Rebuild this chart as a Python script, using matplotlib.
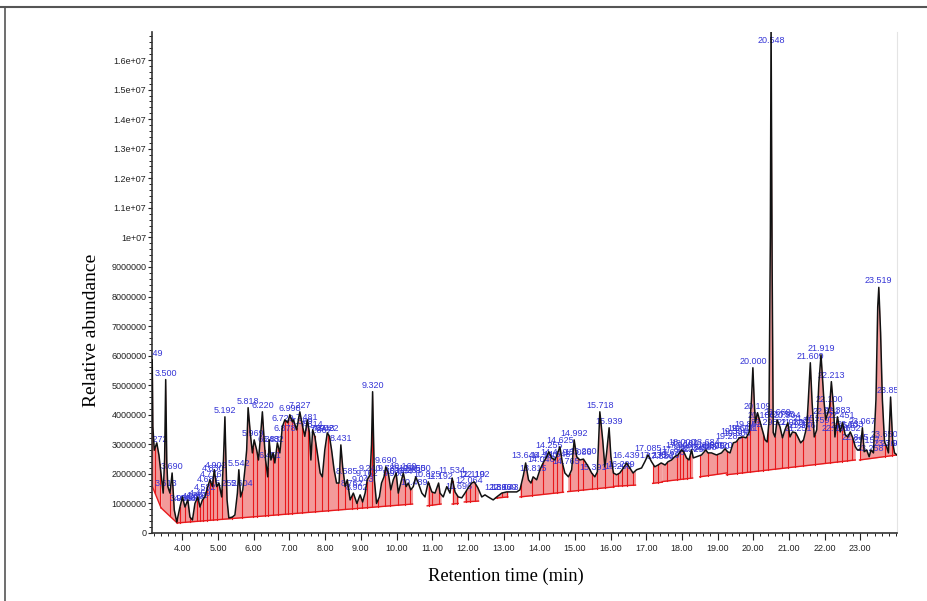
import matplotlib
matplotlib.use("Agg")
import matplotlib.pyplot as plt
import numpy as np
from matplotlib import font_manager
from matplotlib.ticker import MultipleLocator, FuncFormatter
from matplotlib.lines import Line2D

# chromatogram trace: retention time (min), abundance (millions)
trace = [
    (3.146, 4.0), (3.152, 5.86), (3.17, 3.6), (3.21, 2.8), (3.28, 3.05), (3.34, 2.64),
    (3.42, 1.8), (3.46, 1.35), (3.50, 2.5), (3.53, 5.19), (3.56, 2.4), (3.59, 1.57),
    (3.65, 1.35), (3.71, 2.03), (3.77, 0.78), (3.84, 0.37), (3.93, 0.88), (4.00, 1.22),
    (4.07, 0.88), (4.15, 1.12), (4.21, 0.54), (4.28, 0.44), (4.35, 1.0), (4.43, 1.22),
    (4.49, 0.88), (4.56, 1.12), (4.63, 1.22), (4.71, 1.57), (4.77, 1.8), (4.84, 1.57),
    (4.89, 2.14), (4.96, 1.57), (5.02, 1.69), (5.10, 1.22), (5.15, 2.5), (5.19, 3.93),
    (5.22, 2.4), (5.25, 1.12), (5.30, 0.51), (5.40, 0.54), (5.47, 0.61), (5.54, 1.35),
    (5.58, 2.14), (5.63, 1.22), (5.69, 1.46), (5.75, 2.14), (5.80, 2.81), (5.84, 4.24),
    (5.91, 3.27), (5.96, 2.71), (6.01, 3.15), (6.08, 2.81), (6.13, 2.47), (6.18, 3.15),
    (6.24, 4.1), (6.29, 3.15), (6.33, 2.47), (6.39, 1.9), (6.43, 3.15), (6.48, 2.47),
    (6.54, 2.71), (6.59, 2.37), (6.66, 3.05), (6.73, 2.71), (6.80, 3.59), (6.87, 3.83),
    (6.95, 3.73), (7.01, 4.0), (7.08, 3.76), (7.11, 3.83), (7.20, 3.49), (7.29, 4.1),
    (7.37, 3.59), (7.43, 3.27), (7.50, 3.83), (7.56, 3.39), (7.60, 2.47), (7.65, 3.49),
    (7.71, 3.27), (7.78, 2.71), (7.86, 2.03), (7.92, 1.9), (7.99, 2.81), (8.06, 3.39),
    (8.12, 3.27), (8.18, 2.81), (8.25, 2.14), (8.32, 1.69), (8.39, 1.69), (8.44, 2.98),
    (8.49, 2.24), (8.56, 1.57), (8.62, 1.8), (8.70, 1.12), (8.79, 1.35), (8.89, 1.0),
    (8.98, 1.29), (9.05, 1.05), (9.12, 1.35), (9.18, 1.8), (9.26, 1.97), (9.30, 3.0),
    (9.33, 4.78), (9.36, 3.0), (9.38, 1.8), (9.44, 1.0), (9.52, 1.22), (9.58, 1.69),
    (9.65, 1.9), (9.70, 2.24), (9.77, 2.03), (9.84, 1.46), (9.91, 1.8), (9.99, 2.03),
    (10.05, 1.35), (10.12, 1.69), (10.19, 2.03), (10.27, 1.57), (10.33, 1.69), (10.40, 1.46),
    (10.47, 1.57), (10.54, 1.9), (10.61, 1.69), (10.71, 1.35), (10.80, 1.22), (10.89, 1.73),
    (10.99, 1.39), (11.08, 1.35), (11.18, 1.69), (11.22, 1.35), (11.31, 1.22), (11.41, 1.57),
    (11.50, 1.35), (11.56, 1.86), (11.64, 1.39), (11.73, 1.22), (11.83, 1.19), (11.92, 1.35),
    (12.01, 1.53), (12.11, 1.69), (12.18, 1.73), (12.28, 1.53), (12.39, 1.22), (12.48, 1.29),
    (12.57, 1.22), (12.71, 1.12), (12.81, 1.22), (12.95, 1.35), (13.09, 1.39), (13.23, 1.39),
    (13.37, 1.39), (13.46, 1.46), (13.56, 1.97), (13.62, 2.37), (13.70, 1.8), (13.77, 1.69),
    (13.83, 1.9), (13.93, 1.8), (14.02, 2.14), (14.11, 2.37), (14.21, 2.58), (14.27, 2.75),
    (14.35, 2.54), (14.44, 2.47), (14.50, 2.64), (14.58, 2.92), (14.65, 2.37), (14.72, 2.03),
    (14.82, 1.9), (14.91, 2.14), (14.98, 3.15), (15.05, 2.58), (15.14, 2.47), (15.24, 2.50),
    (15.38, 2.24), (15.47, 2.03), (15.56, 1.9), (15.63, 2.07), (15.70, 4.1), (15.78, 3.15),
    (15.84, 2.24), (15.89, 2.71), (15.96, 3.56), (16.01, 2.58), (16.08, 2.03), (16.17, 1.97),
    (16.26, 2.03), (16.36, 2.2), (16.45, 2.37), (16.54, 2.2), (16.63, 2.03), (16.73, 2.14),
    (16.87, 2.2), (16.96, 2.41), (17.05, 2.64), (17.15, 2.41), (17.24, 2.24), (17.33, 2.3),
    (17.42, 2.37), (17.53, 2.3), (17.61, 2.41), (17.71, 2.47), (17.80, 2.58), (17.89, 2.64),
    (17.99, 2.81), (18.05, 2.75), (18.13, 2.54), (18.20, 2.47), (18.27, 2.81), (18.32, 2.54),
    (18.41, 2.58), (18.55, 2.64), (18.67, 2.81), (18.73, 2.71), (18.83, 2.71), (18.97, 2.64),
    (19.11, 2.71), (19.21, 2.85), (19.28, 2.75), (19.35, 2.71), (19.44, 3.05), (19.52, 3.08),
    (19.61, 3.22), (19.71, 3.25), (19.80, 3.22), (19.89, 3.42), (19.95, 4.5), (19.99, 5.59),
    (20.03, 4.4), (20.06, 3.73), (20.12, 4.07), (20.20, 3.73), (20.27, 3.42), (20.33, 3.15),
    (20.39, 3.08), (20.44, 3.73), (20.48, 10.0), (20.50, 17.3), (20.53, 9.0), (20.56, 3.4),
    (20.61, 3.25), (20.67, 3.83), (20.75, 3.59), (20.82, 3.22), (20.89, 3.49), (20.97, 3.73),
    (21.03, 3.25), (21.10, 3.42), (21.19, 3.39), (21.25, 3.25), (21.33, 3.05), (21.41, 3.15),
    (21.50, 3.59), (21.54, 4.41), (21.60, 5.76), (21.65, 4.41), (21.71, 3.25), (21.78, 3.49),
    (21.84, 5.08), (21.90, 6.03), (21.98, 4.51), (22.03, 3.83), (22.09, 4.07), (22.14, 4.27),
    (22.19, 5.12), (22.25, 4.27), (22.29, 3.25), (22.36, 3.93), (22.44, 3.42), (22.50, 3.73),
    (22.58, 3.32), (22.65, 3.25), (22.72, 3.42), (22.79, 3.22), (22.86, 2.92), (22.92, 2.81),
    (23.00, 2.81), (23.06, 3.56), (23.11, 2.75), (23.18, 2.81), (23.25, 2.58), (23.30, 2.81),
    (23.37, 2.71), (23.44, 4.51), (23.49, 7.66), (23.52, 8.31), (23.57, 6.78), (23.62, 4.51),
    (23.68, 3.08), (23.74, 2.92), (23.79, 2.71), (23.85, 4.6), (23.91, 3.05), (23.96, 2.71),
    (24.03, 2.64),
]

# integration baselines: t start, abundance start, t end, abundance end (millions)
baselines = [
    (3.146, 1.60, 3.40, 0.85), (3.40, 0.85, 3.85, 0.34), (3.85, 0.34, 10.45, 0.98),
    (10.86, 0.92, 11.25, 0.98), (11.56, 0.98, 11.73, 1.00), (11.90, 1.05, 12.30, 1.08),
    (12.78, 1.18, 13.12, 1.22), (13.46, 1.22, 14.68, 1.38), (14.80, 1.40, 16.10, 1.56),
    (16.10, 1.58, 16.70, 1.62), (17.18, 1.68, 17.45, 1.72), (17.45, 1.74, 18.30, 1.86),
    (18.50, 1.90, 19.25, 2.03), (19.25, 1.97, 22.86, 2.47), (22.98, 2.47, 24.03, 2.64),
]

# peak start/end drop lines (min)
drop_times = [
    3.15, 3.23, 3.37, 3.65, 3.85, 3.93, 4.07, 4.21, 4.41, 4.49, 4.58, 4.69, 4.77, 4.86,
    4.97, 5.11, 5.39, 5.67, 5.98, 6.09, 6.31, 6.40, 6.54, 6.68, 6.87, 6.96, 7.07,
    7.21, 7.35, 7.52, 7.71, 7.91, 8.08, 8.36, 8.56, 8.75, 8.89, 9.03, 9.17, 9.31, 9.48,
    9.68, 9.82, 10.04, 10.24, 10.38, 10.90, 11.00, 11.20, 11.58, 11.70, 11.95, 12.06,
    12.20, 12.82, 12.96, 13.10, 13.50, 13.80, 14.11, 14.39, 14.50, 14.64, 14.86, 15.09,
    15.23, 15.48, 15.62, 15.84, 16.07, 16.21, 16.32, 16.46, 16.63, 17.20, 17.33, 17.58,
    17.87, 17.95, 18.03, 18.14, 18.23, 18.51, 18.73, 18.99, 19.27, 19.54, 19.68, 19.82,
    19.91, 20.14, 20.28, 20.42, 20.61, 20.81, 20.98, 21.17, 21.40, 21.73, 22.02, 22.16,
    22.35, 22.49, 22.63, 22.77, 23.00, 23.70, 23.90,
]

# peak labels: text, time, peak height (millions)
peak_labels = [
    ("3.149", 3.15, 5.86), ("3.272", 3.28, 2.95), ("3.500", 3.53, 5.19), ("3.613", 3.55, 1.45),
    ("3.690", 3.71, 2.03), ("3.966", 3.95, 0.95), ("4.064", 4.07, 0.95), ("4.180", 4.20, 0.95),
    ("4.289", 4.30, 1.0), ("4.352", 4.40, 1.05), ("4.459", 4.50, 1.1), ("4.582", 4.62, 1.3),
    ("4.687", 4.72, 1.6), ("4.776", 4.80, 1.75), ("4.830", 4.86, 1.95), ("4.902", 4.95, 2.05),
    ("5.192", 5.19, 3.93), ("5.252", 5.22, 1.45), ("5.604", 5.66, 1.45), ("5.542", 5.58, 2.14),
    ("5.818", 5.84, 4.24), ("5.969", 5.98, 3.15), ("6.220", 6.24, 4.1), ("6.383", 6.42, 2.95),
    ("6.482", 6.52, 2.95), ("6.451", 6.45, 2.4), ("6.729", 6.80, 3.65), ("6.878", 6.88, 3.3),
    ("6.998", 7.01, 4.0), ("7.227", 7.29, 4.1), ("7.369", 7.36, 3.55), ("7.481", 7.48, 3.7),
    ("7.614", 7.62, 3.45), ("7.707", 7.70, 3.3), ("7.867", 7.88, 3.25), ("7.943", 7.96, 3.3),
    ("8.022", 8.08, 3.3), ("8.431", 8.44, 2.98), ("8.585", 8.60, 1.85), ("8.762", 8.75, 1.45),
    ("8.902", 8.90, 1.30), ("9.043", 9.05, 1.6), ("9.162", 9.17, 1.8), ("9.240", 9.26, 1.95),
    ("9.320", 9.33, 4.78), ("9.690", 9.70, 2.24), ("9.785", 9.80, 1.95), ("9.903", 9.92, 1.8),
    ("10.044", 10.06, 1.85), ("10.169", 10.19, 2.03), ("10.281", 10.32, 1.9), ("10.450", 10.45, 1.95),
    ("10.650", 10.58, 1.95), ("10.489", 10.50, 1.5), ("10.825", 10.85, 1.75), ("11.192", 11.20, 1.7),
    ("11.534", 11.56, 1.9), ("11.696", 11.75, 1.35), ("12.064", 12.05, 1.55), ("12.110", 12.10, 1.75),
    ("12.192", 12.22, 1.75), ("12.860", 12.85, 1.3), ("12.969", 12.98, 1.3), ("13.043", 13.05, 1.3),
    ("13.646", 13.62, 2.4), ("13.815", 13.82, 1.95), ("14.046", 14.05, 2.25), ("14.130", 14.15, 2.4),
    ("14.255", 14.27, 2.75), ("14.419", 14.42, 2.5), ("14.548", 14.50, 2.45), ("14.625", 14.58, 2.92),
    ("14.765", 14.75, 2.2), ("14.992", 14.98, 3.15), ("15.086", 15.10, 2.5), ("15.200", 15.22, 2.55),
    ("15.391", 15.50, 2.0), ("15.718", 15.70, 4.1), ("15.939", 15.96, 3.56), ("16.200", 16.20, 2.03),
    ("16.299", 16.30, 2.1), ("16.439", 16.45, 2.4), ("17.085", 17.05, 2.64), ("17.235", 17.20, 2.4),
    ("17.386", 17.40, 2.35), ("17.520", 17.55, 2.4), ("17.676", 17.70, 2.5), ("17.812", 17.82, 2.6),
    ("17.908", 17.92, 2.75), ("18.000", 18.00, 2.85), ("18.104", 18.10, 2.8), ("18.225", 18.22, 2.6),
    ("18.345", 18.35, 2.65), ("18.588", 18.58, 2.68), ("18.684", 18.68, 2.85), ("18.820", 18.82, 2.75),
    ("18.950", 18.95, 2.7), ("19.020", 19.05, 2.75), ("19.283", 19.32, 3.05), ("19.394", 19.45, 3.2),
    ("19.504", 19.55, 3.15), ("19.616", 19.65, 3.3), ("19.731", 19.75, 3.3), ("19.852", 19.85, 3.45),
    ("20.000", 19.99, 5.59), ("20.109", 20.12, 4.07), ("20.186", 20.22, 3.75), ("20.298", 20.30, 3.5),
    ("20.548", 20.50, 16.45), ("20.669", 20.67, 3.85), ("20.755", 20.78, 3.8), ("20.904", 20.95, 3.75),
    ("21.030", 21.05, 3.5), ("21.120", 21.15, 3.5), ("21.251", 21.25, 3.3), ("21.346", 21.38, 3.4),
    ("21.451", 21.50, 3.65), ("21.609", 21.60, 5.76), ("21.919", 21.90, 6.03), ("21.759", 21.76, 3.6),
    ("22.031", 22.05, 3.9), ("22.100", 22.12, 4.3), ("22.213", 22.19, 5.12), ("22.383", 22.36, 3.93),
    ("22.300", 22.30, 3.3), ("22.451", 22.47, 3.75), ("22.560", 22.55, 3.4), ("22.652", 22.65, 3.3),
    ("22.733", 22.73, 3.45), ("22.845", 22.85, 3.0), ("23.067", 23.06, 3.56), ("23.157", 23.18, 2.9),
    ("23.258", 23.27, 2.65), ("23.519", 23.52, 8.31), ("23.650", 23.68, 3.1), ("23.760", 23.76, 2.8),
    ("23.852", 23.85, 4.6), ("23.940", 23.95, 2.8),
]

x_ticks = list(range(4, 24))


def pick_font(names):
    have = {f.name for f in font_manager.fontManager.ttflist}
    for n in names:
        if n in have:
            return n
    return "DejaVu Sans"


narrow = pick_font(["Liberation Sans Narrow", "Liberation Sans", "DejaVu Sans"])
serif = pick_font(["Liberation Serif", "DejaVu Serif"])
small = 7.5 if "Narrow" in narrow else 6.5

t = np.array([p[0] for p in trace])
y = np.array([p[1] for p in trace]) * 1e6

fig = plt.figure(figsize=(9.27, 6.01), dpi=100)
ax = fig.add_axes([152 / 927, 68 / 601, 745 / 927, 501 / 601])

red_fill = "#f39a9a"
red_line = "#e8191c"
for t0, b0, t1, b1 in baselines:
    inside = t[(t > t0) & (t < t1)]
    grid = np.unique(np.concatenate([np.linspace(t0, t1, 200), inside]))
    tr = np.interp(grid, t, y)
    base = np.interp(grid, [t0, t1], [b0 * 1e6, b1 * 1e6])
    ax.fill_between(grid, base, tr, where=tr > base, color=red_fill, lw=0, zorder=1,
                    interpolate=True)
    ax.plot([t0, t1], [b0 * 1e6, b1 * 1e6], color=red_line, lw=1.0, zorder=2)

for d in drop_times:
    for t0, b0, t1, b1 in baselines:
        if t0 <= d <= t1:
            base = np.interp(d, [t0, t1], [b0 * 1e6, b1 * 1e6])
            top = np.interp(d, t, y)
            if top > base:
                ax.plot([d, d], [base, top], color=red_line, lw=0.8, zorder=2)
            break

for txt, lt, lh in peak_labels:
    ax.annotate(txt, (lt, lh * 1e6), xytext=(0, 1.5), textcoords="offset points",
                ha="center", va="bottom", color="#3535d6", fontsize=small,
                family=narrow, zorder=3, annotation_clip=False, clip_on=True)

ax.plot(t, y, color="#111111", lw=1.1, zorder=4)

ax.set_xlim(3.146, 24.03)
ax.set_ylim(0, 1.695e7)
ax.xaxis.set_major_locator(plt.FixedLocator(x_ticks))
ax.xaxis.set_minor_locator(MultipleLocator(0.2))
ax.xaxis.set_major_formatter(FuncFormatter(lambda v, p: "%.2f" % v))
ax.yaxis.set_major_locator(MultipleLocator(1e6))
ax.yaxis.set_minor_locator(MultipleLocator(2e5))


def yfmt(v, p):
    if v < 9.5e6:
        return "%d" % round(v)
    return "{:.2g}".format(v)


ax.yaxis.set_major_formatter(FuncFormatter(yfmt))
ax.tick_params(axis="both", which="major", labelsize=small, colors="#222222",
               width=0.8)
ax.tick_params(axis="x", which="major", length=5, pad=3)
ax.tick_params(axis="y", which="major", length=3, pad=1)
ax.tick_params(axis="both", which="minor", length=2.5, width=0.7, colors="#222222")
for lab in ax.get_xticklabels() + ax.get_yticklabels():
    lab.set_family(narrow)

ax.spines["top"].set_visible(False)
ax.spines["right"].set_color("#e4e4e4")
ax.spines["left"].set_color("#333333")
ax.spines["bottom"].set_color("#333333")
ax.spines["left"].set_linewidth(1.2)
ax.spines["bottom"].set_linewidth(1.2)

ax.set_xlabel("Retention time (min)", family=serif, fontsize=13.3)
ax.set_ylabel("Relative abundance", family=serif, fontsize=14)
ax.xaxis.set_label_coords(0.475, -0.07)
ax.yaxis.set_label_coords(-0.07, 0.405)

# frame of the original picture
fig.add_artist(Line2D([0, 1], [1 - 7 / 601, 1 - 7 / 601], color="#555555", lw=1.5,
                      transform=fig.transFigure))
fig.add_artist(Line2D([5 / 927, 5 / 927], [0, 1 - 7 / 601], color="#555555", lw=1.2,
                      transform=fig.transFigure))

fig.savefig("out.png", dpi=100)
